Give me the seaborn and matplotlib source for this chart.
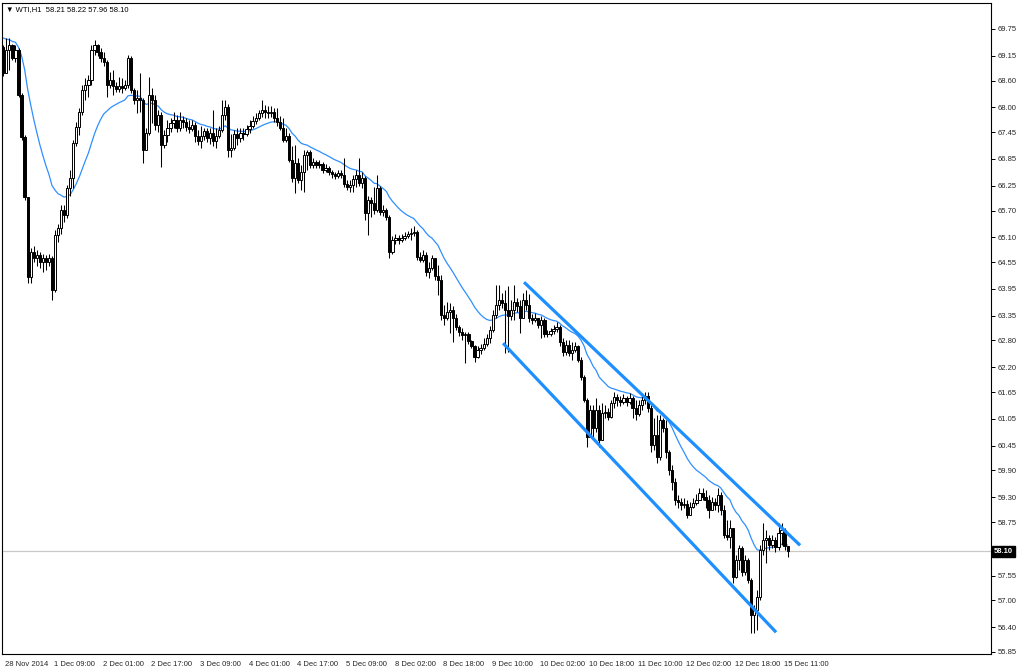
import numpy as np
import pandas as pd
import matplotlib
matplotlib.use("Agg")
import matplotlib.pyplot as plt
import matplotlib.transforms as mtransforms
import seaborn as sns

# WTI hourly candles, 28 Nov - 15 Dec 2014
first_open = 69.35

closes = [
    68.77, 69.28, 69.39, 69.10, 69.28, 68.28, 67.34, 66.00, 64.21, 64.77,
    64.64, 64.71, 64.55, 64.64, 64.55, 64.64, 63.92, 65.15, 65.31, 65.71,
    65.60, 66.20, 66.42, 67.21, 67.56, 67.90, 68.39, 68.50, 68.61, 69.28,
    69.39, 69.24, 69.10, 69.01, 68.50, 68.61, 68.48, 68.41, 68.48, 68.43,
    68.50, 69.10, 68.39, 68.17, 68.21, 68.17, 67.05, 67.43, 68.28, 68.17,
    67.61, 67.83, 67.16, 67.38, 67.54, 67.65, 67.72, 67.54, 67.72, 67.67,
    67.56, 67.52, 67.61, 67.36, 67.25, 67.36, 67.47, 67.32, 67.43, 67.25,
    67.36, 67.50, 67.83, 68.01, 67.05, 67.09, 67.41, 67.32, 67.43, 67.41,
    67.52, 67.58, 67.70, 67.76, 67.87, 67.94, 67.90, 67.87, 67.90, 67.76,
    67.67, 67.54, 67.27, 67.36, 66.83, 66.42, 66.76, 66.38, 66.56, 66.94,
    67.00, 66.71, 66.78, 66.71, 66.74, 66.60, 66.65, 66.56, 66.51, 66.47,
    66.54, 66.49, 66.29, 66.22, 66.27, 66.40, 66.49, 66.31, 66.42, 65.64,
    65.93, 65.87, 65.71, 66.20, 65.67, 65.71, 65.55, 64.77, 65.04, 65.09,
    65.04, 65.09, 65.13, 65.17, 65.20, 65.22, 64.66, 64.59, 64.71, 64.33,
    64.42, 64.64, 64.24, 64.15, 63.37, 63.30, 63.43, 63.48, 63.30, 63.10,
    62.99, 62.92, 62.94, 62.79, 62.67, 62.43, 62.58, 62.63, 62.72, 62.85,
    63.03, 63.37, 63.59, 63.70, 63.63, 63.48, 63.35, 63.48, 63.66, 63.57,
    63.30, 63.70, 63.59, 63.30, 63.25, 63.30, 63.14, 63.25, 62.94, 62.94,
    63.01, 63.05, 63.10, 62.76, 62.54, 62.70, 62.52, 62.58, 62.67, 62.36,
    61.98, 61.47, 60.64, 61.25, 60.85, 61.25, 60.58, 61.18, 61.21, 61.09,
    61.40, 61.54, 61.47, 61.43, 61.51, 61.43, 61.51, 61.29, 61.16, 61.36,
    61.47, 61.56, 61.29, 60.46, 60.69, 60.20, 61.02, 60.85, 60.31, 59.91,
    59.64, 59.24, 59.19, 59.13, 59.15, 58.90, 59.08, 59.17, 59.24, 59.40,
    59.30, 59.24, 59.01, 59.19, 59.13, 59.35, 59.01, 58.46, 58.41, 58.61,
    57.52, 57.90, 58.17, 57.63, 57.90, 57.45, 56.67, 56.78, 57.07, 58.12,
    58.34, 58.39, 58.23, 58.34, 58.19, 58.50, 58.57, 58.21, 58.10,
]

highs = [
    69.39, 69.55, 69.55, 69.42, 69.39, 69.33, 68.32, 67.38, 66.00, 64.86,
    64.91, 64.82, 64.77, 64.73, 64.71, 64.73, 64.68, 65.26, 65.40, 65.82,
    65.82, 66.27, 66.60, 67.27, 67.67, 67.99, 68.50, 68.66, 68.72, 69.39,
    69.50, 69.42, 69.33, 69.24, 69.06, 68.79, 68.83, 68.57, 68.68, 68.66,
    68.61, 69.17, 69.15, 68.43, 68.39, 68.77, 68.21, 67.54, 68.68, 68.43,
    68.28, 67.94, 67.90, 67.50, 67.72, 67.76, 67.90, 67.83, 67.90, 67.81,
    67.76, 67.72, 67.72, 67.67, 67.50, 67.58, 67.54, 67.54, 67.54, 67.94,
    67.54, 67.58, 68.17, 68.17, 68.08, 67.41, 67.50, 67.54, 67.54, 67.54,
    67.61, 67.72, 67.81, 67.87, 67.94, 68.17, 68.05, 68.03, 68.03, 67.99,
    67.99, 67.81, 67.76, 67.54, 67.43, 67.14, 67.16, 66.87, 66.71, 67.05,
    67.05, 67.05, 66.87, 66.83, 66.83, 66.78, 66.74, 66.69, 66.60, 66.56,
    66.60, 66.60, 66.87, 66.38, 66.38, 66.49, 66.60, 66.87, 66.56, 66.47,
    66.02, 66.00, 66.22, 66.49, 66.25, 65.82, 65.75, 65.60, 65.13, 65.17,
    65.15, 65.17, 65.22, 65.24, 65.31, 65.35, 65.26, 64.77, 64.82, 64.77,
    64.55, 64.71, 64.64, 64.48, 64.26, 63.59, 63.66, 63.63, 63.57, 63.39,
    63.14, 63.08, 62.99, 62.99, 62.81, 62.70, 62.67, 62.72, 62.85, 62.94,
    63.12, 63.48, 64.04, 64.04, 63.86, 63.92, 64.01, 63.70, 64.04, 63.75,
    63.70, 63.86, 63.92, 63.83, 63.39, 63.41, 63.30, 63.35, 63.30, 63.03,
    63.08, 63.14, 63.21, 63.14, 62.85, 62.81, 62.81, 62.76, 62.76, 62.70,
    62.43, 62.03, 61.51, 61.36, 61.36, 61.51, 61.36, 61.40, 61.36, 61.29,
    61.47, 61.65, 61.60, 61.56, 61.60, 61.56, 61.63, 61.56, 61.47, 61.47,
    61.63, 61.65, 61.65, 61.36, 61.07, 61.13, 61.13, 61.07, 61.02, 60.35,
    60.02, 59.73, 59.35, 59.28, 59.28, 59.24, 59.19, 59.28, 59.37, 59.50,
    59.50, 59.46, 59.35, 59.30, 59.28, 59.50, 59.42, 59.13, 58.79, 58.79,
    58.61, 58.01, 58.23, 58.21, 58.01, 57.94, 57.49, 56.89, 57.23, 58.23,
    58.72, 58.57, 58.46, 58.46, 58.41, 58.72, 58.72, 58.61, 58.22,
]

lows = [
    68.70, 68.77, 68.83, 69.06, 69.01, 68.23, 67.27, 65.93, 64.08, 64.08,
    64.55, 64.46, 64.42, 64.33, 64.37, 64.46, 63.70, 63.88, 65.00, 65.17,
    65.44, 65.53, 66.02, 66.20, 67.14, 67.38, 67.83, 68.17, 68.23, 68.50,
    69.17, 69.15, 69.01, 68.92, 68.23, 68.43, 68.28, 68.34, 68.34, 68.32,
    68.39, 68.43, 68.32, 68.08, 67.87, 67.90, 66.76, 67.05, 67.38, 67.65,
    67.50, 67.45, 66.67, 67.09, 67.23, 67.45, 67.54, 67.45, 67.47, 67.54,
    67.47, 67.43, 67.47, 67.23, 67.16, 67.09, 67.27, 67.23, 67.18, 67.14,
    67.09, 67.32, 67.45, 67.72, 66.89, 66.89, 67.05, 67.16, 67.23, 67.27,
    67.36, 67.43, 67.54, 67.63, 67.72, 67.79, 67.76, 67.76, 67.79, 67.67,
    67.58, 67.50, 67.23, 67.23, 66.78, 66.33, 66.09, 66.31, 66.16, 66.11,
    66.60, 66.65, 66.65, 66.65, 66.65, 66.54, 66.56, 66.49, 66.42, 66.40,
    66.42, 66.42, 66.22, 66.16, 66.11, 66.11, 66.22, 66.25, 66.20, 65.49,
    65.15, 65.55, 65.62, 65.67, 65.60, 65.58, 65.49, 64.64, 64.73, 64.95,
    64.95, 65.00, 65.04, 65.09, 65.04, 65.13, 64.59, 64.55, 64.55, 64.24,
    64.19, 64.37, 64.15, 63.81, 63.25, 63.14, 63.25, 62.97, 62.76, 63.03,
    62.90, 62.81, 62.30, 62.72, 62.63, 62.32, 62.41, 62.50, 62.58, 62.67,
    62.74, 62.99, 63.30, 63.48, 63.52, 62.52, 62.54, 63.25, 63.25, 63.43,
    62.97, 63.35, 63.48, 63.21, 63.17, 63.21, 63.08, 62.85, 62.88, 62.88,
    62.90, 62.94, 62.99, 62.67, 62.45, 62.47, 62.45, 62.36, 62.54, 62.32,
    61.92, 61.43, 60.42, 60.64, 60.58, 60.76, 60.42, 60.58, 61.07, 61.02,
    61.07, 61.29, 61.34, 61.34, 61.38, 61.34, 61.38, 61.07, 61.02, 61.11,
    61.25, 61.38, 61.21, 60.31, 60.35, 60.06, 60.13, 60.76, 60.17, 59.80,
    59.46, 59.13, 59.06, 59.01, 59.06, 58.83, 58.97, 59.06, 59.13, 59.28,
    59.24, 59.06, 58.83, 59.01, 59.01, 58.97, 58.90, 58.39, 58.34, 58.17,
    57.38, 57.49, 57.67, 57.54, 57.56, 57.38, 56.27, 56.27, 56.33, 57.00,
    58.01, 57.83, 58.12, 58.17, 58.08, 58.12, 58.23, 58.12, 57.96,
]

# closes before the visible window, only used to warm up the moving average
warmup_closes = [69.9, 69.7, 69.8, 69.5, 69.6, 69.4, 69.7, 69.8, 69.6, 69.5,
                 69.7, 69.6, 69.4, 69.5, 69.7, 69.6, 69.5, 69.6, 69.5]

time_labels = ["28 Nov 2014", "1 Dec 09:00", "2 Dec 01:00", "2 Dec 17:00",
               "3 Dec 09:00", "4 Dec 01:00", "4 Dec 17:00", "5 Dec 09:00",
               "8 Dec 02:00", "8 Dec 18:00", "9 Dec 10:00", "10 Dec 02:00",
               "10 Dec 18:00", "11 Dec 10:00", "12 Dec 02:00", "12 Dec 18:00",
               "15 Dec 11:00"]
price_ticks = [69.75, 69.15, 68.60, 68.00, 67.45, 66.85, 66.25, 65.70, 65.10,
               64.55, 63.95, 63.35, 62.80, 62.20, 61.65, 61.05, 60.45, 59.90,
               59.30, 58.75, 57.55, 57.00, 56.40, 55.85]
last_price = 58.10

# hand-drawn channel lines (bar index, price)
upper_bars = [171.3, 262.1]
upper_prices = [64.10, 58.23]
lower_bars = [164.4, 254.2]
lower_prices = [62.74, 56.29]

opens = [first_open] + closes[:-1]
df = pd.DataFrame({"bar": np.arange(len(closes)), "open": opens,
                   "high": highs, "low": lows, "close": closes})
ema = pd.Series(warmup_closes + closes).ewm(span=20, adjust=False).mean()
df["ma"] = ema.iloc[len(warmup_closes):].values

sns.set_style("white")
plt.rcParams["font.family"] = ["Liberation Sans", "DejaVu Sans"]
fsize = 5.5

fig = plt.figure(figsize=(10.24, 6.69), dpi=100)
ax = fig.add_axes([2 / 1024, 15 / 669, 989 / 1024, 651 / 669])

ax.axhline(last_price, color="#c8c8c8", lw=0.9, zorder=0)

sns.lineplot(data=df, x="bar", y="ma", ax=ax, color="#2f8fff", lw=0.9, zorder=2)

up = df["close"] >= df["open"]
body_lo = df[["open", "close"]].min(axis=1)
body_hi = df[["open", "close"]].max(axis=1)
ax.vlines(df["bar"], np.minimum(df["low"], body_lo), np.maximum(df["high"], body_hi),
          color="black", lw=0.75, zorder=3)
ax.bar(df["bar"][up], (body_hi - body_lo)[up], bottom=body_lo[up], width=0.72,
       color="white", edgecolor="black", linewidth=0.7, zorder=4)
ax.bar(df["bar"][~up], (body_hi - body_lo)[~up], bottom=body_lo[~up], width=0.72,
       color="black", edgecolor="black", linewidth=0.7, zorder=4)

ax.plot(upper_bars, upper_prices, color="#1e8fff", lw=2.3, solid_capstyle="butt", zorder=5)
ax.plot(lower_bars, lower_prices, color="#1e8fff", lw=2.3, solid_capstyle="butt", zorder=5)

ax.set_xlim(-0.43, 324.9)
ax.set_ylim(55.805, 70.33)
ax.set_xlabel("")
ax.set_ylabel("")

ax.yaxis.tick_right()
ax.set_yticks(price_ticks)
ax.set_yticklabels([f"{p:.2f}" for p in price_ticks])
ax.set_xticks(np.arange(0, 16 * len(time_labels), 16))
ax.set_xticklabels(time_labels, ha="left")
ax.tick_params(axis="both", direction="out", length=3, width=0.7, color="black",
               labelsize=fsize, pad=2)
shift = mtransforms.ScaledTranslation(1.5 / 72, 0, fig.dpi_scale_trans)
for lbl in ax.get_xticklabels():
    lbl.set_transform(lbl.get_transform() + shift)

for sp in ax.spines.values():
    sp.set_color("black")
    sp.set_linewidth(0.8)

# last price tag on the price axis
trans = mtransforms.blended_transform_factory(ax.transAxes, ax.transData)
ax.text(1.003, last_price, f"{last_price:.2f}", transform=trans, ha="left", va="center",
        fontsize=fsize, color="white", fontweight="bold",
        bbox=dict(boxstyle="square,pad=0.25", fc="black", ec="black"))

fig.text(6 / 1024, 1 - 10 / 669, "\u25bc WTI,H1  58.21 58.22 57.96 58.10",
         fontsize=fsize, va="center", ha="left", color="black")

fig.savefig("out.png", dpi=100, facecolor="white")
